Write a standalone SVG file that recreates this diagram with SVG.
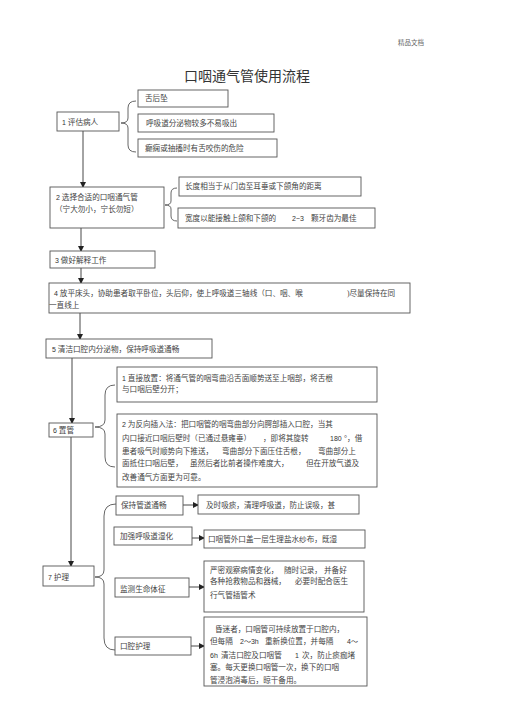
<svg xmlns="http://www.w3.org/2000/svg" width="505" height="714" viewBox="0 0 505 714">
<style>
.b{fill:#fff;stroke:#555;stroke-width:0.9}
.t{font-family:"Liberation Serif","Noto Sans CJK SC",serif;font-size:7.6px;fill:#444}
.n{font-family:"Liberation Sans","Noto Sans CJK SC",sans-serif;font-size:7px;fill:#333}
.c{fill:none;stroke:#333;stroke-width:0.9}
.br{fill:none;stroke:#555;stroke-width:0.9}
</style>
<defs>
<marker id="ah" markerWidth="6" markerHeight="6" refX="5" refY="3" orient="auto" markerUnits="userSpaceOnUse">
<path d="M0,0 L6,3 L0,6 Z" fill="#222"/>
</marker>
</defs>
<rect width="505" height="714" fill="#fff"/>
<text x="398" y="45" style="font-family:'Noto Sans CJK SC',sans-serif;font-size:6.5px;fill:#666">精品文档</text>
<text x="184" y="81" style="font-family:'Noto Sans CJK SC',sans-serif;font-size:14px;fill:#333">口咽通气管使用流程</text>

<g id="connectors">
<line class="c" x1="83" y1="131" x2="83" y2="187" marker-end="url(#ah)"/>
<line class="c" x1="81" y1="228" x2="81" y2="251" marker-end="url(#ah)"/>
<line class="c" x1="81" y1="268" x2="81" y2="283" marker-end="url(#ah)"/>
<line class="c" x1="80" y1="313" x2="80" y2="339" stroke-width="1.5" marker-end="url(#ah)"/>
<line class="c" x1="72" y1="358" x2="72" y2="423" marker-end="url(#ah)"/>
<line class="c" x1="71" y1="437" x2="71" y2="566" marker-end="url(#ah)"/>
<line class="c" x1="183" y1="505" x2="198" y2="505" marker-end="url(#ah)"/>
<line class="c" x1="192" y1="538" x2="204" y2="538" marker-end="url(#ah)"/>
<line class="c" x1="189" y1="587" x2="204" y2="587" marker-end="url(#ah)"/>
<line class="c" x1="191" y1="646" x2="204" y2="646" marker-end="url(#ah)"/>
<path class="br" d="M136,101 Q128,101 128,108 L128,118 Q128,123 121,123 Q128,123 128,128 L128,145 Q128,152 136,152"/>
<path class="br" d="M177,188 Q171,188 171,193 L171,201 Q171,205 165,205 Q171,205 171,209 L171,216 Q171,221 177,221"/>
<path class="br" d="M115,385 Q105,385 105,395 L105,420 Q105,427 95,427 Q105,427 105,434 L105,457 Q105,467 115,467"/>
<path class="br" d="M116,504 Q104,504 104,516 L104,570 Q104,577 95,577 Q104,577 104,584 L104,638 Q104,650 115,650"/>
</g>

<g id="n1"><rect class="b" x="57" y="112" width="62" height="19"/><text class="t" x="62" y="124.5"><tspan class="n">1</tspan>  评估病人</text></g>
<g id="n1a"><rect class="b" x="138" y="90" width="90" height="17"/><text class="t" x="145" y="101">舌后坠</text></g>
<g id="n1b"><rect class="b" x="138" y="114" width="136" height="18"/><text class="t" x="146" y="125.5">呼吸道分泌物较多不易吸出</text></g>
<g id="n1c"><rect class="b" x="138" y="139" width="139" height="18"/><text class="t" x="145" y="150.5">癫痫或抽搐时有舌咬伤的危险</text></g>

<g id="n2"><rect class="b" x="50" y="187" width="114" height="41"/><text class="t" x="56" y="200"><tspan class="n">2</tspan>  选择合适的口咽通气管</text><text class="t" x="55" y="212">（宁大勿小，宁长勿短）</text></g>
<g id="n2a"><rect class="b" x="179" y="177" width="182" height="19"/><text class="t" x="185" y="189">长度相当于从门齿至耳垂或下颌角的距离</text></g>
<g id="n2b"><rect class="b" x="178" y="208" width="197" height="20"/><text class="t" x="185" y="220.5">宽度以能接触上颌和下颌的</text><text class="n" x="292" y="220.5">2~3</text><text class="t" x="311" y="220.5">颗牙齿为最佳</text></g>

<g id="n3"><rect class="b" x="50" y="251" width="105" height="17"/><text class="t" x="55" y="262.5"><tspan class="n">3</tspan>  做好解释工作</text></g>

<g id="n4"><rect class="b" x="49" y="283" width="361" height="30"/><text class="t" x="54" y="295.5"><tspan class="n">4</tspan>  放平床头，协助患者取平卧位，头后仰，使上呼吸道三轴线（口、咽、喉</text><text class="t" x="347" y="295.5">)尽量保持在同</text><text class="t" x="49" y="307.5">一直线上</text></g>

<g id="n5"><rect class="b" x="46" y="339" width="166" height="19"/><text class="t" x="52" y="352"><tspan class="n">5</tspan>  清洁口腔内分泌物，保持呼吸道通畅</text></g>

<g id="n6"><rect class="b" x="49" y="423" width="44" height="14"/><text class="t" x="53" y="432.5"><tspan class="n">6</tspan>  置管</text></g>
<g id="n6a"><rect class="b" x="117" y="367" width="260" height="35"/><text class="t" x="122" y="380.5"><tspan class="n">1</tspan>  直接放置：将通气管的咽弯曲沿舌面顺势送至上咽部，将舌根</text><text class="t" x="122" y="392">与口咽后壁分开；</text></g>
<g id="n6b"><rect class="b" x="117" y="414" width="260" height="73"/>
<text class="t" x="122" y="427"><tspan class="n">2</tspan>  为反向插入法：把口咽管的咽弯曲部分向腭部插入口腔，当其</text>
<text class="t" x="122" y="440.5">内口接近口咽后壁时（已通过悬雍垂）</text><text class="t" x="263" y="440.5">，即将其旋转</text><text class="n" x="330" y="440.5">180</text><text class="t" x="344" y="440.5">°，借</text>
<text class="t" x="122" y="453.5">患者吸气时顺势向下推送，</text><text class="t" x="222" y="453.5">弯曲部分下面压住舌根，</text><text class="t" x="318" y="453.5">弯曲部分上</text>
<text class="t" x="122" y="466">面抵住口咽后壁，</text><text class="t" x="190" y="466">虽然后者比前者操作难度大，</text><text class="t" x="306" y="466">但在开放气道及</text>
<text class="t" x="122" y="479.5">改善通气方面更为可靠。</text></g>

<g id="n7"><rect class="b" x="43" y="566" width="51" height="20"/><text class="t" x="48" y="579.5"><tspan class="n">7</tspan>  护理</text></g>
<g id="n7a"><rect class="b" x="116" y="496" width="67" height="19"/><text class="t" x="121" y="508">保持管道通畅</text></g>
<g id="n7ar"><rect class="b" x="198" y="495" width="161" height="19"/><text class="t" x="206" y="507.5">及时吸痰，清理呼吸道，防止误吸，甚</text></g>
<g id="n7b"><rect class="b" x="114" y="527" width="78" height="18"/><text class="t" x="120" y="539">加强呼吸道湿化</text></g>
<g id="n7br"><rect class="b" x="204" y="530" width="161" height="18"/><text class="t" x="208" y="542">口咽管外口盖一层生理盐水纱布，既湿</text></g>
<g id="n7c"><rect class="b" x="115" y="578" width="74" height="19"/><text class="t" x="120" y="591.5">监测生命体征</text></g>
<g id="n7cr"><rect class="b" x="204" y="561" width="160" height="51"/>
<text class="t" x="210" y="572.5">严密观察病情变化，</text><text class="t" x="284" y="572.5">随时记录，</text><text class="t" x="324" y="572.5">并备好</text>
<text class="t" x="210" y="584">各种抢救物品和器械，</text><text class="t" x="295" y="584">必要时配合医生</text>
<text class="t" x="210" y="597.5">行气管插管术</text></g>
<g id="n7d"><rect class="b" x="115" y="637" width="76" height="18"/><text class="t" x="120" y="649">口腔护理</text></g>
<g id="n7dr"><rect class="b" x="204" y="617" width="163" height="69"/>
<text class="t" x="215" y="631.5">昏迷者，口咽管可持续放置于口腔内，</text>
<text class="t" x="210" y="643.5">但每隔</text><text class="n" x="240" y="643.5">2～3h</text><text class="t" x="265" y="643.5">重新换位置，并每隔</text><text class="n" x="347" y="643.5">4～</text>
<text class="n" x="210" y="657.5">6h</text><text class="t" x="221" y="657.5">清洁口腔及口咽管</text><text class="n" x="295" y="657.5">1</text><text class="t" x="302" y="657.5">次，防止痰痂堵</text>
<text class="t" x="210" y="670">塞。每天更换口咽管一次，换下的口咽</text>
<text class="t" x="210" y="682.5">管浸泡消毒后，晾干备用。</text></g>
</svg>
